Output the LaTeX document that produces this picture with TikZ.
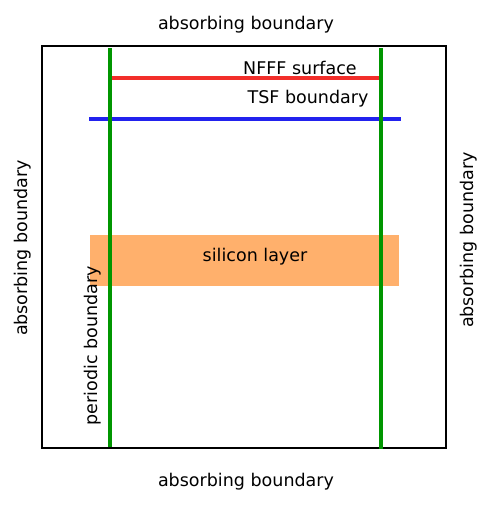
\documentclass[tikz,border=0pt]{standalone}
\usepackage{fontspec}
\setmainfont{DejaVu Sans}
\begin{document}
\begin{tikzpicture}[x = 1pt, y = -1pt, font = \fontsize{17.5}{21}\selectfont]
        \useasboundingbox (0, 0) rectangle (490, 507);
        \fill[fill = {rgb,255:red,255;green,176;blue,108}] (90, 235) rectangle (399, 286);
        \node (si) at (255, 257) {silicon layer};
        \draw[line width = 2pt] (42, 46) rectangle (446, 448);
        \draw[line width = 4pt, color = {rgb,255:red,242;green,46;blue,42}] (112, 78) -- (379, 78);
        \draw[line width = 4pt, color = {rgb,255:red,34;green,34;blue,238}] (89, 119) -- (401, 119);
        \draw[line width = 4.5pt, color = {rgb,255:red,0;green,150;blue,0}] (110, 48) -- (110, 447);
        \draw[line width = 4.5pt, color = {rgb,255:red,0;green,150;blue,0}] (381, 48) -- (381, 449);
        \node (nfff) at (300, 68) {NFFF surface};
        \node (tsf) at (308, 99) {TSF boundary};
        \node (top) at (246, 25) {absorbing boundary};
        \node (bottom) at (246, 482) {absorbing boundary};
        \node[rotate = 90] (left) at (23, 248) {absorbing boundary};
        \node[rotate = 90] (right) at (469, 240) {absorbing boundary};
        \node[rotate = 90] (periodic) at (93, 346) {periodic boundary};
    \end{tikzpicture}
\end{document}
